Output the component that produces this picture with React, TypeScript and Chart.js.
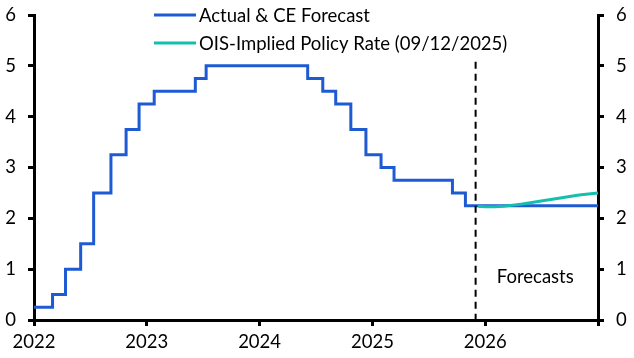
import React, { useEffect, useRef } from "react";
import { Chart, registerables } from "chart.js";

Chart.register(...registerables);

// Bank of Canada policy rate: dates of change and new level (%)
const actualDates = [
  "2022-01-01", "2022-03-02", "2022-04-13", "2022-06-01", "2022-07-13",
  "2022-09-07", "2022-10-26", "2022-12-07", "2023-01-25", "2023-06-07",
  "2023-07-12", "2024-06-05", "2024-07-24", "2024-09-04", "2024-10-23",
  "2024-12-11", "2025-01-29", "2025-03-12", "2025-09-17", "2025-10-29",
  "2027-01-01",
];
const actualRates = [
  0.25, 0.5, 1.0, 1.5, 2.5,
  3.25, 3.75, 4.25, 4.5, 4.75,
  5.0, 4.75, 4.5, 4.25, 3.75,
  3.25, 3.0, 2.75, 2.5, 2.25,
  2.25,
];

const oisDates = [
  "2025-12-09", "2026-01-01", "2026-02-01", "2026-03-01", "2026-04-01",
  "2026-05-01", "2026-06-01", "2026-07-01", "2026-08-01", "2026-09-01",
  "2026-10-01", "2026-11-01", "2026-12-01", "2027-01-01",
];
const oisRates = [
  2.24, 2.23, 2.23, 2.24, 2.26,
  2.28, 2.31, 2.34, 2.37, 2.40,
  2.43, 2.46, 2.48, 2.50,
];

const forecastStart = "2025-12-01";
const forecastTop = 5.08;
const forecastLabel = "Forecasts";
const forecastLabelPos = { date: "2026-06-12", value: 0.85 };

const yTicks = [0, 1, 2, 3, 4, 5, 6];
const xTickYears = [2022, 2023, 2024, 2025, 2026, 2027];

const seriesLabels = ["Actual & CE Forecast", "OIS-Implied Policy Rate (09/12/2025)"];
const seriesColors = ["#1e5bd2", "#14bfae"];

function toYear(s: string): number {
  const [y, m, d] = s.split("-").map(Number);
  const start = Date.UTC(y, 0, 1);
  const end = Date.UTC(y + 1, 0, 1);
  const t = Date.UTC(y, m - 1, d);
  return y + (t - start) / (end - start);
}

const FONT = "Lato, 'Noto Sans', sans-serif";
const FSIZE = 18.5;

export default function App() {
  const ref = useRef<HTMLCanvasElement | null>(null);

  useEffect(() => {
    document.body.style.margin = "0";
    const canvas = ref.current;
    if (!canvas) return;

    const overlay = {
      id: "overlay",
      afterDatasetsDraw(chart: any) {
        const { ctx, scales } = chart;
        const x = scales.x;
        const y = scales.y;
        ctx.save();
        const fx = x.getPixelForValue(toYear(forecastStart));
        ctx.strokeStyle = "#000";
        ctx.lineWidth = 2;
        ctx.setLineDash([7, 5]);
        ctx.beginPath();
        ctx.moveTo(fx, y.getPixelForValue(forecastTop));
        ctx.lineTo(fx, y.getPixelForValue(0));
        ctx.stroke();
        ctx.setLineDash([]);
        ctx.fillStyle = "#000";
        ctx.font = `${FSIZE}px ${FONT}`;
        ctx.textAlign = "center";
        ctx.textBaseline = "middle";
        ctx.fillText(
          forecastLabel,
          x.getPixelForValue(toYear(forecastLabelPos.date)),
          y.getPixelForValue(forecastLabelPos.value)
        );
        ctx.textAlign = "left";
        seriesLabels.forEach((lab, i) => {
          const ly = 15 + i * 28;
          ctx.strokeStyle = seriesColors[i];
          ctx.lineWidth = 3;
          ctx.beginPath();
          ctx.moveTo(154, ly);
          ctx.lineTo(196, ly);
          ctx.stroke();
          ctx.fillStyle = "#000";
          ctx.fillText(lab, 199, ly + 1);
        });
        ctx.restore();
      },
    };

    const tickFont = { family: FONT, size: FSIZE };
    const gridOpts = { drawOnChartArea: false, drawTicks: true, tickLength: 6, color: "#000", lineWidth: 3 };
    const borderOpts = { color: "#000", width: 3 };

    const chart = new Chart(canvas, {
      type: "line",
      data: {
        datasets: [
          {
            label: seriesLabels[0],
            data: actualDates.map((d, i) => ({ x: toYear(d), y: actualRates[i] })),
            borderColor: seriesColors[0],
            borderWidth: 3,
            pointRadius: 0,
            stepped: true,
            order: 1,
          },
          {
            label: seriesLabels[1],
            data: oisDates.map((d, i) => ({ x: toYear(d), y: oisRates[i] })),
            borderColor: seriesColors[1],
            borderWidth: 3,
            pointRadius: 0,
            tension: 0,
            order: 0,
          },
        ],
      },
      options: {
        animation: false,
        responsive: false,
        maintainAspectRatio: false,
        layout: { padding: { top: 15, left: 0, right: 0, bottom: 0 } },
        plugins: { legend: { display: false }, tooltip: { enabled: false } },
        scales: {
          x: {
            type: "linear",
            min: xTickYears[0],
            max: xTickYears[xTickYears.length - 1],
            afterBuildTicks: (s: any) => {
              s.ticks = xTickYears.map((v) => ({ value: v }));
            },
            afterFit: (s: any) => {
              s.height = 38;
              s.paddingLeft = 0;
              s.paddingRight = 0;
            },
            ticks: {
              color: "#000",
              font: tickFont,
              padding: 5,
              maxRotation: 0,
              callback: (v: any) => (v === xTickYears[xTickYears.length - 1] ? "" : String(v)),
            },
            grid: gridOpts,
            border: borderOpts,
          },
          y: {
            position: "left",
            min: 0,
            max: 6,
            afterBuildTicks: (s: any) => {
              s.ticks = yTicks.map((v) => ({ value: v }));
            },
            afterFit: (s: any) => {
              s.width = 34;
              s.paddingTop = 0;
              s.paddingBottom = 0;
            },
            ticks: { color: "#000", font: tickFont, padding: 12 },
            grid: gridOpts,
            border: borderOpts,
          },
          y2: {
            position: "right",
            min: 0,
            max: 6,
            afterBuildTicks: (s: any) => {
              s.ticks = yTicks.map((v) => ({ value: v }));
            },
            afterFit: (s: any) => {
              s.width = 36;
              s.paddingTop = 0;
              s.paddingBottom = 0;
            },
            ticks: { color: "#000", font: tickFont, padding: 12 },
            grid: gridOpts,
            border: borderOpts,
          },
        },
      },
      plugins: [overlay],
    } as any);

    return () => chart.destroy();
  }, []);

  return (
    <div style={{ width: 634, height: 358 }}>
      <canvas ref={ref} width={634} height={358} style={{ display: "block" }} />
    </div>
  );
}
